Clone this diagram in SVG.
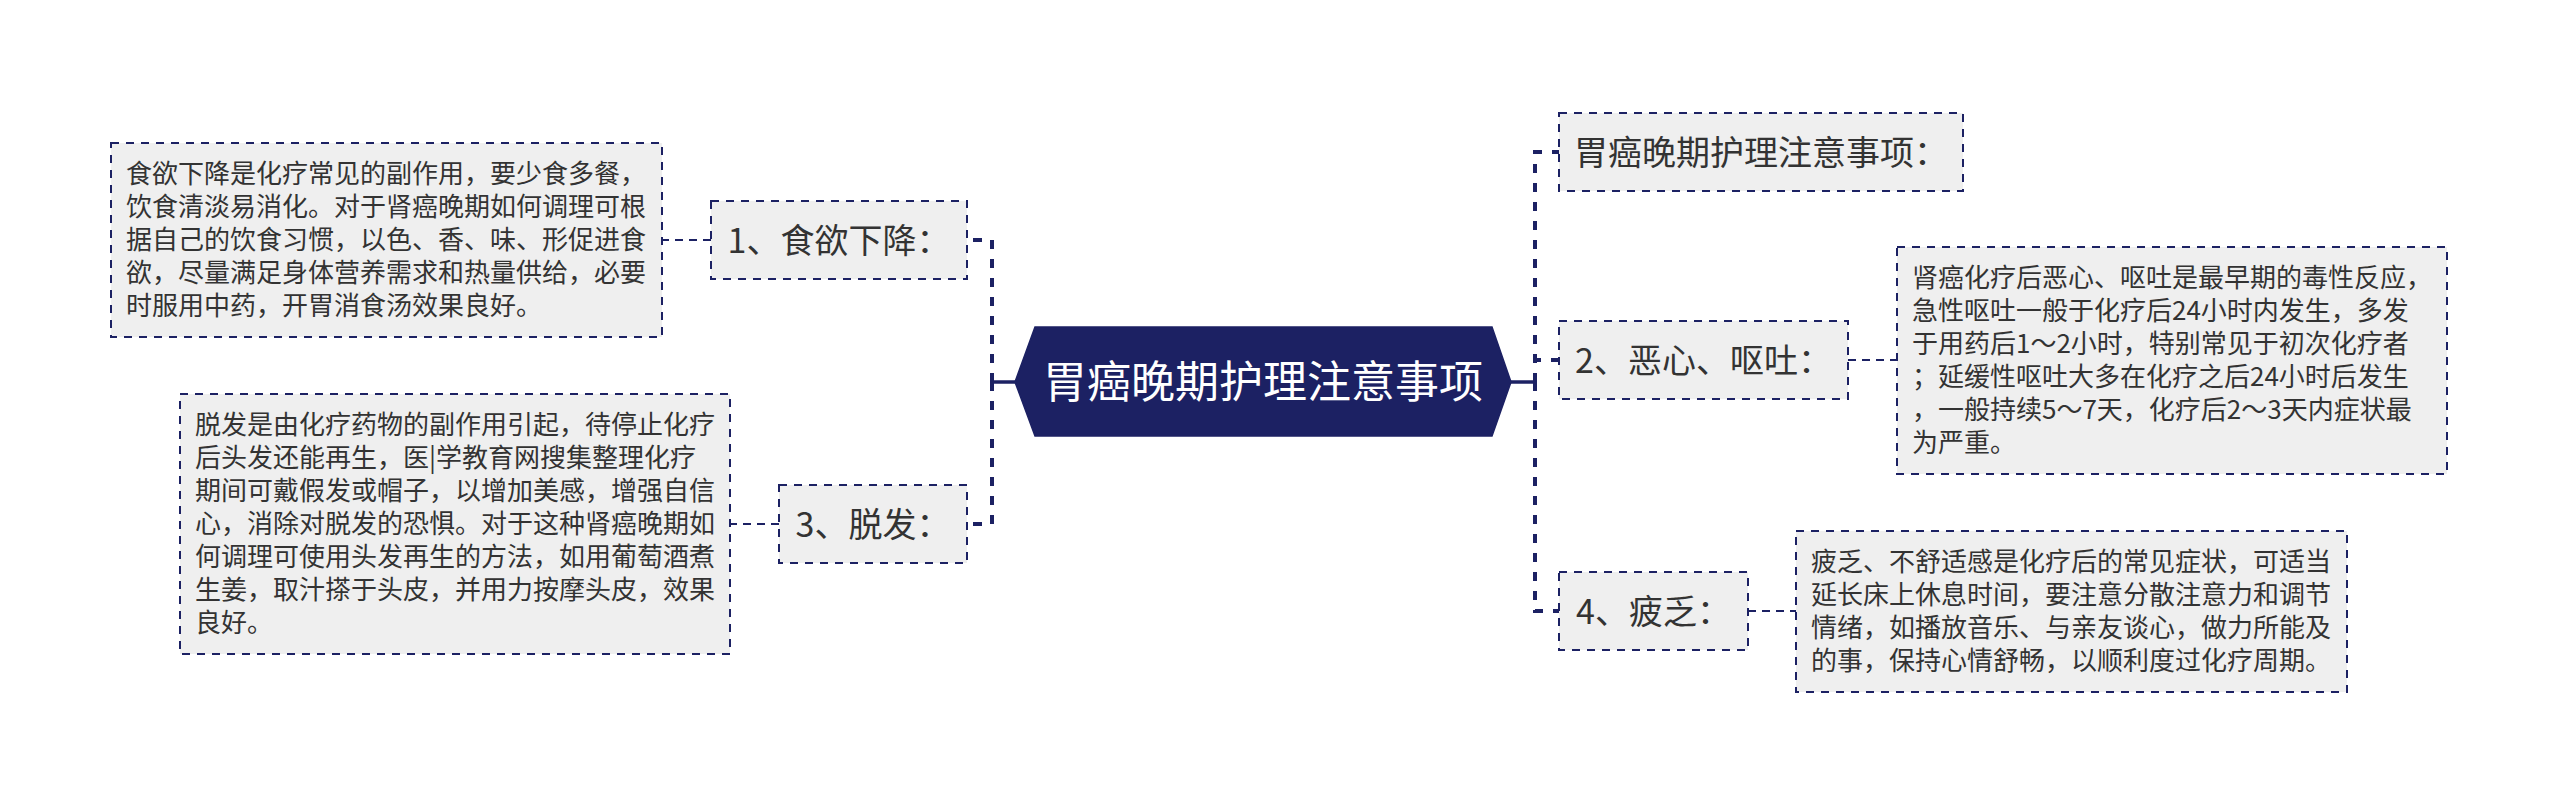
<svg xmlns="http://www.w3.org/2000/svg" width="2560" height="805" viewBox="0 0 2560 805">
<style>
.bg{fill:#ffffff}
.node{fill:#efefef;stroke:#1c2163;stroke-width:2;stroke-dasharray:8 7}
.box{fill:#efefef;stroke:#1c2163;stroke-width:2;stroke-dasharray:8 7}
.root{fill:#1c2163;stroke:#1c2163;stroke-width:1.5}
.nt{font-family:"Noto Sans CJK SC","Noto Sans",sans-serif;font-size:34px;fill:#333333;text-anchor:middle}
.bt{font-family:"Noto Sans CJK SC","Noto Sans",sans-serif;font-size:26px;fill:#333333}
.rt{font-family:"Noto Sans CJK SC","Noto Sans",sans-serif;font-size:44px;fill:#ffffff;text-anchor:middle}
.trunk{fill:none;stroke:#1c2163;stroke-width:4;stroke-dasharray:9 10}
.stub{fill:none;stroke:#1c2163;stroke-width:3.5}
.thin{fill:none;stroke:#1c2163;stroke-width:2;stroke-dasharray:8 6}
</style>
<rect class="bg" x="0" y="0" width="2560" height="805"/>
<g id="connectors">
<path class="stub" d="M992,382 H1015"/>
<path class="stub" d="M1511,382 H1535"/>
<path class="trunk" d="M992,382 V240 H967"/>
<path class="trunk" d="M992,382 V524 H967"/>
<path class="trunk" d="M1535,382 V152 H1559"/>
<path class="trunk" d="M1535,382 V360 H1559"/>
<path class="trunk" d="M1535,382 V611 H1559"/>
<path class="thin" d="M711,240 H663"/>
<path class="thin" d="M779,524 H730"/>
<path class="thin" d="M1848,360 H1897"/>
<path class="thin" d="M1748,611 H1796"/>
</g>
<g id="root">
<polygon class="root" points="1015,382 1035,327 1492,327 1511,382 1492,436 1035,436"/>
<text class="rt" x="1263" y="398">胃癌晚期护理注意事项</text>
</g>
<g id="node1">
<rect class="node" x="711" y="201" width="256" height="78"/>
<text class="nt" x="839" y="252.5">1、食欲下降：</text>
</g>
<g id="node1-detail">
<rect class="box" x="111" y="143" width="551" height="194"/>
<text class="bt" x="126" y="183">食欲下降是化疗常见的副作用，要少食多餐，</text>
<text class="bt" x="126" y="216">饮食清淡易消化。对于肾癌晚期如何调理可根</text>
<text class="bt" x="126" y="249">据自己的饮食习惯，以色、香、味、形促进食</text>
<text class="bt" x="126" y="282">欲，尽量满足身体营养需求和热量供给，必要</text>
<text class="bt" x="126" y="315">时服用中药，开胃消食汤效果良好。</text>
</g>
<g id="node3">
<rect class="node" x="779" y="485" width="188" height="78"/>
<text class="nt" x="873" y="536.5">3、脱发：</text>
</g>
<g id="node3-detail">
<rect class="box" x="180" y="394" width="550" height="260"/>
<text class="bt" x="195" y="434">脱发是由化疗药物的副作用引起，待停止化疗</text>
<text class="bt" x="195" y="467">后头发还能再生，医|学教育网搜集整理化疗</text>
<text class="bt" x="195" y="500">期间可戴假发或帽子，以增加美感，增强自信</text>
<text class="bt" x="195" y="533">心，消除对脱发的恐惧。对于这种肾癌晚期如</text>
<text class="bt" x="195" y="566">何调理可使用头发再生的方法，如用葡萄酒煮</text>
<text class="bt" x="195" y="599">生姜，取汁搽于头皮，并用力按摩头皮，效果</text>
<text class="bt" x="195" y="632">良好。</text>
</g>
<g id="nodeT">
<rect class="node" x="1559" y="113" width="404" height="78"/>
<text class="nt" x="1761" y="164.5">胃癌晚期护理注意事项：</text>
</g>
<g id="node2">
<rect class="node" x="1559" y="321" width="289" height="78"/>
<text class="nt" x="1703.5" y="372.5">2、恶心、呕吐：</text>
</g>
<g id="node2-detail">
<rect class="box" x="1897" y="247" width="550" height="227"/>
<text class="bt" x="1912" y="287">肾癌化疗后恶心、呕吐是最早期的毒性反应，</text>
<text class="bt" x="1912" y="320">急性呕吐一般于化疗后24小时内发生，多发</text>
<text class="bt" x="1912" y="353">于用药后1～2小时，特别常见于初次化疗者</text>
<text class="bt" x="1912" y="386">；延缓性呕吐大多在化疗之后24小时后发生</text>
<text class="bt" x="1912" y="419">，一般持续5～7天，化疗后2～3天内症状最</text>
<text class="bt" x="1912" y="452">为严重。</text>
</g>
<g id="node4">
<rect class="node" x="1559" y="572" width="189" height="78"/>
<text class="nt" x="1653.5" y="623.5">4、疲乏：</text>
</g>
<g id="node4-detail">
<rect class="box" x="1796" y="531" width="551" height="161"/>
<text class="bt" x="1811" y="571">疲乏、不舒适感是化疗后的常见症状，可适当</text>
<text class="bt" x="1811" y="604">延长床上休息时间，要注意分散注意力和调节</text>
<text class="bt" x="1811" y="637">情绪，如播放音乐、与亲友谈心，做力所能及</text>
<text class="bt" x="1811" y="670">的事，保持心情舒畅，以顺利度过化疗周期。</text>
</g>
</svg>
